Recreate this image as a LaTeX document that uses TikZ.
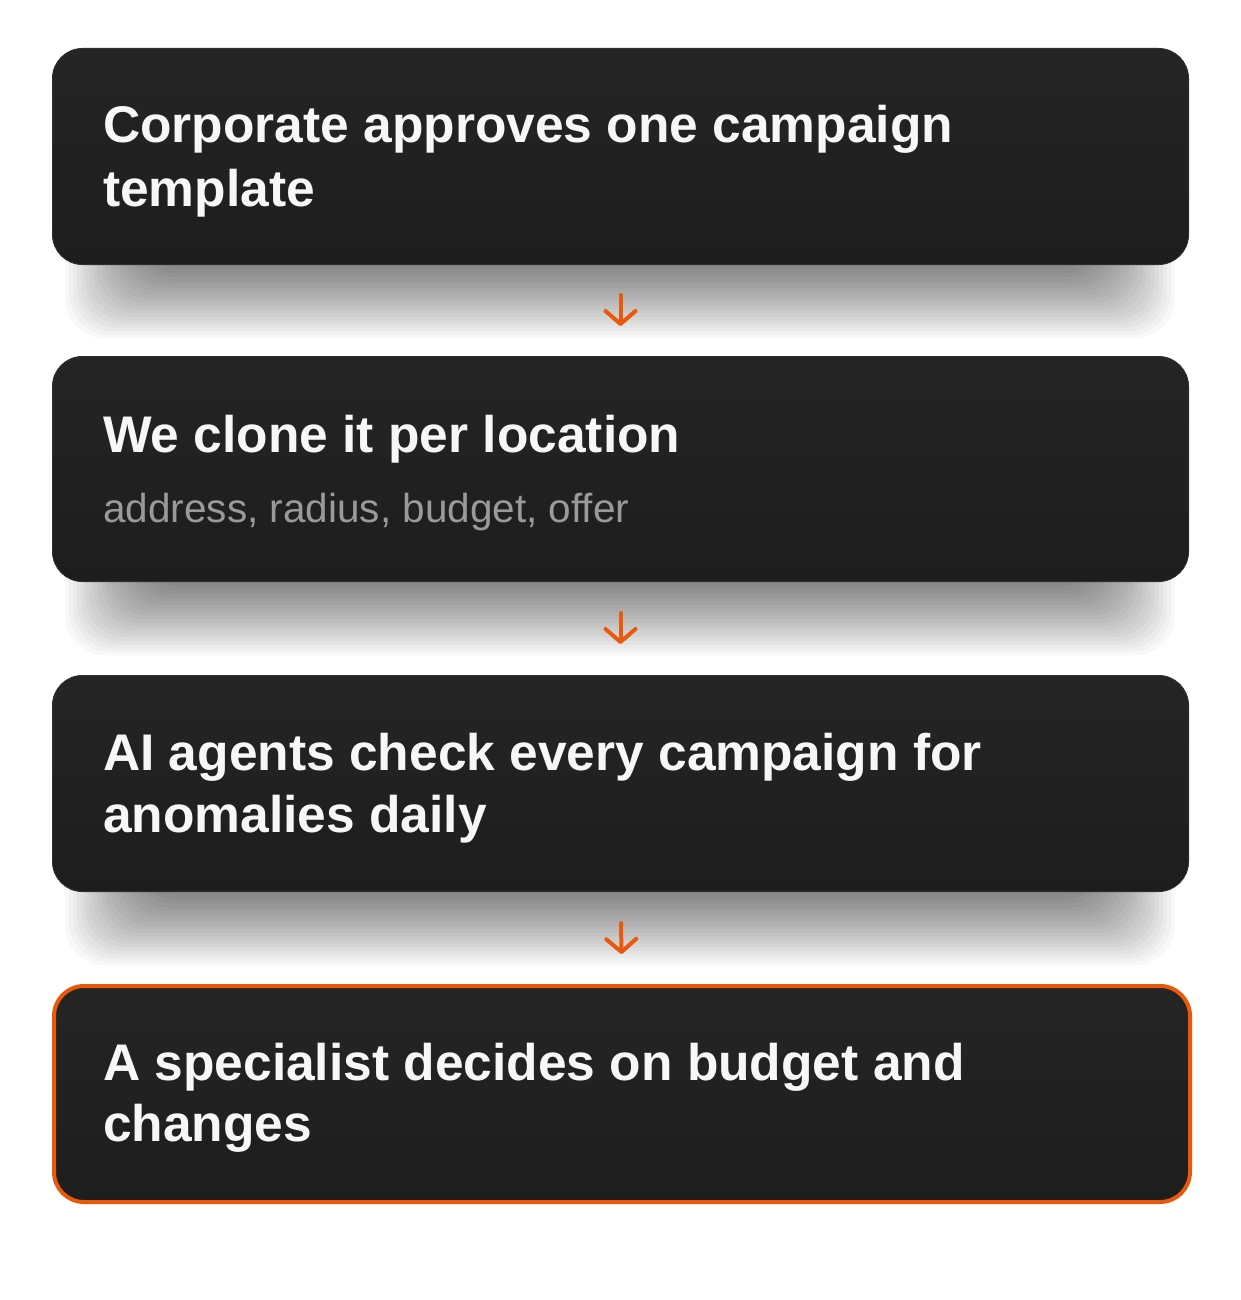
\documentclass[tikz,border=0pt]{standalone}
\usepackage{fontspec}
\setmainfont{Liberation Sans}
\usetikzlibrary{arrows.meta}
\definecolor{orng}{HTML}{E8590C}
\definecolor{cardtop}{HTML}{252525}
\definecolor{cardbot}{HTML}{1D1D1D}
\definecolor{cardline}{HTML}{2E2E2E}
\definecolor{subgray}{HTML}{9A9A9A}
\definecolor{titlewhite}{HTML}{F7F7F7}
\newcommand{\cardshadow}[2]{%
  \foreach \s in {0,3,...,57}{%
    \fill[black, opacity=0.026, rounded corners=40pt]
      ({52+90-\s*1.35}, {#1+60}) rectangle ({1188-90+\s*1.35}, {#2+6+\s*1.2});
  }}
\begin{document}
\begin{tikzpicture}[x=1pt,y=-1pt,
  card/.style={rounded corners=30pt, top color=cardtop, bottom color=cardbot,
    draw=cardline, line width=1pt, inner sep=0pt, minimum width=1136pt,
    anchor=north west},
  hilite/.style={card, draw=orng, line width=4pt},
  title/.style={anchor=base west, inner sep=0pt, text=titlewhite, font=\fontsize{51.5}{60}\selectfont\bfseries},
  subtitle/.style={anchor=base west, inner sep=0pt, text=subgray, font=\fontsize{40.5}{46}\selectfont},
  flow/.style={draw=orng, line width=4pt, line cap=round,
    -{Straight Barb[length=13pt, width=30pt, line cap=round, round]}}
]
\useasboundingbox (0,0) rectangle (1240,1300);
\fill[white] (0,0) rectangle (1240,1300);

\cardshadow{48}{264}
\cardshadow{356}{581}
\cardshadow{675}{891}

\node[card, minimum height=216pt] (b1) at (52,48) {};
\node[card, minimum height=225pt] (b2) at (52,356) {};
\node[card, minimum height=216pt] (b3) at (52,675) {};
\node[hilite, minimum height=216pt] (b4) at (52,984) {};

\node[title] (t1a) at (103,143) {Corporate approves one campaign};
\node[title] (t1b) at (103,206) {template};
\node[title] (t2a) at (103,452) {We clone it per location};
\node[subtitle] (s2) at (103,522) {address, radius, budget, offer};
\node[title] (t3a) at (103,770) {AI agents check every campaign for};
\node[title] (t3b) at (103,832) {anomalies daily};
\node[title] (t4a) at (103,1080) {A specialist decides on budget and};
\node[title] (t4b) at (103,1141) {changes};

\draw[flow, shorten <=30pt, shorten >=30pt] (b1.south) -- (b2.north);
\draw[flow, shorten <=31pt, shorten >=31pt] (b2.south) -- (b3.north);
\draw[flow, shorten <=31pt, shorten >=30pt] (b3.south) -- (b4.north);
\end{tikzpicture}
\end{document}
